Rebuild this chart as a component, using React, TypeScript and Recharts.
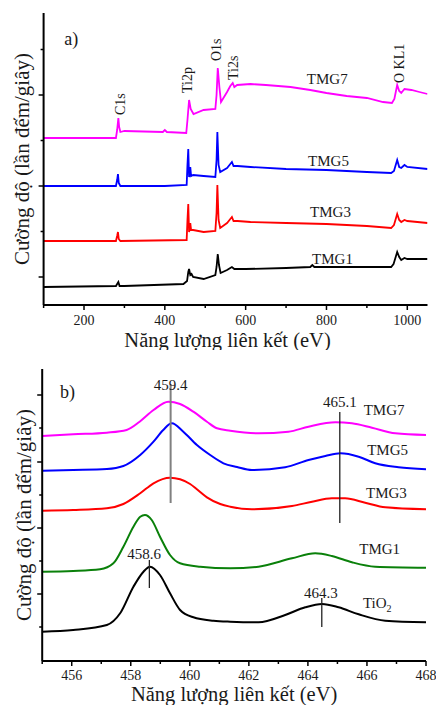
import { LineChart, Line, XAxis, YAxis, ReferenceLine, ReferenceDot } from "recharts";

const FONT = "'Liberation Serif', 'Times New Roman', Times, serif";
const INK = "#1a1a1a";

// (a) survey spectra: [binding energy (eV), intensity in plot units, offset stacked]
const surveyTMG7: [number, number][] = [
  [100, 167], [200, 167], [279, 167], [282, 175], [285, 187], [287, 178], [290, 173], [300, 174],
  [395, 173], [400, 175], [405, 173], [453, 172], [456, 185], [460, 205], [464, 196], [471, 191],
  [496, 195], [525, 196], [528, 210], [531, 237], [535, 218], [539, 203], [554, 213], [562, 219],
  [568, 222], [572, 218], [579, 220], [612, 221], [650, 220], [711, 218], [760, 215], [800, 212],
  [850, 209], [900, 207], [940, 203], [962, 202], [968, 206], [975, 220], [980, 214], [985, 212],
  [993, 216], [1010, 215], [1030, 213], [1050, 211],
];
const surveyTMG5: [number, number][] = [
  [100, 119], [279, 119], [282, 125], [284, 131], [286, 122], [290, 119], [400, 119], [454, 120],
  [456, 140], [458, 156], [460, 128], [462, 132], [463, 138], [465, 129], [470, 130], [496, 129],
  [525, 128], [528, 145], [530, 173], [533, 140], [537, 133], [554, 137], [562, 141], [566, 143],
  [570, 139], [580, 139], [612, 138], [700, 136], [800, 135], [900, 133], [960, 132], [967, 134],
  [975, 145], [980, 138], [985, 137], [993, 140], [1000, 138], [1050, 136],
];
const surveyTMG3: [number, number][] = [
  [100, 64], [279, 64], [282, 69], [284, 73], [286, 66], [290, 64], [454, 65], [456, 85],
  [458, 101], [460, 73], [462, 78], [463, 82], [465, 75], [470, 75], [496, 73], [525, 74],
  [528, 92], [530, 120], [533, 85], [537, 77], [554, 82], [562, 86], [566, 88], [570, 84],
  [580, 84], [612, 83], [700, 82], [800, 81], [900, 79], [960, 77], [967, 80], [975, 91],
  [980, 85], [985, 83], [993, 85], [1000, 84], [1050, 82],
];
const surveyTMG1: [number, number][] = [
  [100, 18], [279, 19], [282, 21], [285, 23], [288, 19], [300, 19], [446, 21], [455, 24],
  [458, 33], [460, 36], [463, 30], [466, 31], [470, 28], [496, 26], [525, 30], [528, 38],
  [531, 51], [534, 40], [538, 32], [554, 35], [562, 37], [566, 38], [572, 36], [600, 36],
  [700, 37], [760, 38], [765, 40], [770, 38], [800, 38], [900, 38], [960, 38], [966, 41],
  [975, 53], [980, 48], [985, 45], [993, 47], [1000, 46], [1050, 46],
];
const surveyXMajor = [200, 400, 600, 800, 1000];
const surveyXMinor = [100, 300, 500, 700, 900];
const surveyYMajor = [28, 119, 210];
const surveyYMinor = [73.5, 164.5, 255.5];
const surveyPeakNames = [
  { text: "C1s", x: 302, y: 190 },
  { text: "Ti2p", x: 466, y: 212 },
  { text: "O1s", x: 539, y: 244 },
  { text: "Ti2s", x: 582, y: 225 },
  { text: "O KL1", x: 991, y: 222 },
];
const surveyNames = [
  { text: "TMG7", x: 802, y: 221 },
  { text: "TMG5", x: 805, y: 139 },
  { text: "TMG3", x: 810, y: 88 },
  { text: "TMG1", x: 815, y: 41 },
];

// (b) Ti2p region
const tiTMG7: [number, number][] = [
  [455, 225], [456.05, 226.7], [457.19, 228.3], [457.86, 231], [458.3, 239.3], [458.77, 251],
  [459.27, 259.3], [459.67, 257], [460.12, 249.3], [460.58, 239.3], [460.92, 232.7], [461.37, 230.3],
  [462.33, 227.7], [463.34, 229.3], [464.02, 234.3], [464.93, 238.7], [465.49, 237.7], [466.17, 233.3],
  [466.96, 227.7], [468, 226],
];
const tiTMG5: [number, number][] = [
  [455, 190.3], [456.05, 191], [457.19, 192], [457.75, 195], [458.32, 206], [458.77, 219.3],
  [459.1, 231], [459.39, 237.7], [459.78, 229.3], [460.24, 216], [460.69, 206], [461.14, 197.7],
  [461.6, 194], [462.1, 191], [463.23, 193.7], [464.02, 201], [464.59, 205], [465.1, 207.7],
  [465.72, 204.3], [466.28, 197.7], [467.07, 193.7], [468, 191.7],
];
const tiTMG3: [number, number][] = [
  [455, 150.3], [456.05, 151], [457.19, 152.7], [457.75, 157], [458.32, 167.7], [458.77, 177.7],
  [459.33, 183.3], [459.67, 181.7], [460.01, 177], [460.24, 171.7], [460.58, 163.7], [461.03, 157],
  [461.37, 154.3], [462.1, 151.7], [463.46, 155], [464.14, 159.3], [464.81, 162.7], [465.26, 162.7],
  [465.94, 158.3], [466.62, 153.7], [468, 151.7],
];
const tiTMG1: [number, number][] = [
  [455, 89.3], [456.05, 90], [456.96, 91.7], [457.41, 97.7], [457.75, 114.3], [458.09, 134.3],
  [458.32, 144.3], [458.48, 146], [458.71, 141], [458.99, 124.3], [459.33, 106], [459.67, 97.7],
  [460.35, 94.3], [461.37, 92.7], [462.33, 94.3], [463.46, 102.7], [464.25, 107.7], [464.81, 105],
  [465.49, 98.7], [466.28, 94.3], [468, 93.3],
];
const tiTiO2: [number, number][] = [
  [455, 29.3], [456.05, 31], [457.19, 36], [457.64, 47.7], [458.09, 74.3], [458.43, 89.3],
  [458.65, 94.3], [458.99, 86], [459.33, 67.7], [459.67, 51], [460.12, 43.7], [460.8, 40.3],
  [461.37, 39.3], [462.33, 38.7], [463.23, 46], [463.91, 53.7], [464.48, 57], [465.04, 53.7],
  [465.72, 46.7], [466.62, 40.3], [468, 38.7],
];
const tiXMajor = [456, 458, 460, 462, 464, 466, 468];
const tiXMinor = [455, 457, 459, 461, 463, 465, 467];
const tiYMajor = [67, 133, 199, 266];
const tiYMinor = [34, 100, 166, 233];
const tiMarks = [
  { text: "459.4", x: 459.35, top: 277, bottom: 158, tx: 459.35, ty: 271 },
  { text: "465.1", x: 465.08, top: 249, bottom: 138, tx: 465.08, ty: 254 },
  { text: "458.6", x: 458.63, top: 101, bottom: 73, tx: 458.45, ty: 102 },
  { text: "464.3", x: 464.47, top: 63, bottom: 34, tx: 464.44, ty: 63 },
];
const tiNames = [
  { text: "TMG7", x: 466.58, y: 246 },
  { text: "TMG5", x: 466.7, y: 206 },
  { text: "TMG3", x: 466.66, y: 163 },
  { text: "TMG1", x: 466.43, y: 107 },
];

const toPts = (arr: [number, number][]) => arr.map(([x, y]) => ({ x, y }));

const txt = (size: number) => ({ fontFamily: FONT, fontSize: size });

const xTick = (majors: number[], labelDy: number) => (props: any) => {
  const { x, y, payload } = props;
  const major = majors.includes(payload.value);
  return (
    <g>
      <line x1={x} y1={y} x2={x} y2={y + (major ? 5 : 3)} stroke="#000" strokeWidth={1.5} />
      {major && (
        <text x={x} y={y + labelDy} textAnchor="middle" style={txt(14)} fill={INK}>
          {payload.value}
        </text>
      )}
    </g>
  );
};

const yTick = (majors: number[]) => (props: any) => {
  const { x, y, payload } = props;
  const major = majors.includes(payload.value);
  return <line x1={x} y1={y} x2={x - (major ? 5 : 3)} y2={y} stroke="#000" strokeWidth={1.5} />;
};

const xTitle = (dx: number, dy: number) => (props: any) => {
  const vb = props.viewBox || props;
  return (
    <text x={vb.x + vb.width / 2 + dx} y={vb.y + dy} textAnchor="middle" style={txt(20.5)} fill={INK}>
      Năng lượng liên kết (eV)
    </text>
  );
};

const yTitle = (bx: number) => (props: any) => {
  const vb = props.viewBox || props;
  const cy = vb.y + vb.height / 2;
  return (
    <text x={bx} y={cy} transform={`rotate(-90 ${bx} ${cy})`} textAnchor="middle" style={txt(21)} fill={INK}>
      Cường độ (lần đếm/giây)
    </text>
  );
};

const textShape = (text: string, size = 15, anchor = "middle") => (p: any) => (
  <text x={p.cx} y={p.cy} textAnchor={anchor} style={txt(size)} fill={INK}>
    {text}
  </text>
);

const upTextShape = (text: string) => (p: any) => (
  <text x={p.cx} y={p.cy} transform={`rotate(-90 ${p.cx} ${p.cy})`} style={txt(14)} fill={INK}>
    {text}
  </text>
);

const frame = { stroke: "#000", strokeWidth: 2 };

const SurveyChart = () => (
  <LineChart width={436} height={350} margin={{ top: 13, right: 8.5, bottom: 0, left: 0.6 }}>
    <XAxis
      dataKey="x"
      type="number"
      domain={[100, 1050]}
      ticks={[...surveyXMinor, ...surveyXMajor].sort((a, b) => a - b)}
      interval={0}
      height={45}
      tickSize={0}
      tickMargin={0}
      tickLine={false}
      tick={xTick(surveyXMajor, 20)}
      axisLine={frame}
      allowDataOverflow
      label={xTitle(-8, 41.5)}
    />
    <XAxis xAxisId="top" orientation="top" type="number" domain={[100, 1050]} height={0} tick={false} tickLine={false} axisLine={frame} />
    <YAxis
      type="number"
      domain={[0, 292]}
      ticks={[...surveyYMajor, ...surveyYMinor]}
      interval={0}
      width={43}
      tickSize={0}
      tickMargin={0}
      tickLine={false}
      tick={yTick(surveyYMajor)}
      axisLine={frame}
      allowDataOverflow
      label={yTitle(29)}
    />
    <YAxis yAxisId="right" orientation="right" type="number" domain={[0, 292]} width={0} tick={false} tickLine={false} axisLine={frame} />
    <Line data={toPts(surveyTMG1)} dataKey="y" type="linear" stroke="#000000" strokeWidth={1.8} dot={false} isAnimationActive={false} />
    <Line data={toPts(surveyTMG3)} dataKey="y" type="linear" stroke="#ff0000" strokeWidth={1.8} dot={false} isAnimationActive={false} />
    <Line data={toPts(surveyTMG5)} dataKey="y" type="linear" stroke="#0000ff" strokeWidth={1.8} dot={false} isAnimationActive={false} />
    <Line data={toPts(surveyTMG7)} dataKey="y" type="linear" stroke="#ff00ff" strokeWidth={1.8} dot={false} isAnimationActive={false} />
    {surveyPeakNames.map((p) => (
      <ReferenceDot key={p.text} x={p.x} y={p.y} r={0} shape={upTextShape(p.text)} />
    ))}
    {surveyNames.map((n) => (
      <ReferenceDot key={n.text} x={n.x} y={n.y} r={0} shape={textShape(n.text)} />
    ))}
    <ReferenceDot x={151} y={260} r={0} shape={textShape("a)", 18, "start")} />
  </LineChart>
);

const Ti2pChart = () => (
  <LineChart width={436} height={355} margin={{ top: 19, right: 10, bottom: 0, left: 0.2 }}>
    <XAxis
      dataKey="x"
      type="number"
      domain={[455, 468]}
      ticks={[...tiXMinor, ...tiXMajor].sort((a, b) => a - b)}
      interval={0}
      height={44}
      tickSize={0}
      tickMargin={0}
      tickLine={false}
      tick={xTick(tiXMajor, 18.5)}
      axisLine={frame}
      allowDataOverflow
      label={xTitle(0, 40)}
    />
    <XAxis xAxisId="top" orientation="top" type="number" domain={[455, 468]} height={0} tick={false} tickLine={false} axisLine={frame} />
    <YAxis
      type="number"
      domain={[0, 292]}
      ticks={[...tiYMajor, ...tiYMinor]}
      interval={0}
      width={42}
      tickSize={0}
      tickMargin={0}
      tickLine={false}
      tick={yTick(tiYMajor)}
      axisLine={frame}
      allowDataOverflow
      label={yTitle(31)}
    />
    <YAxis yAxisId="right" orientation="right" type="number" domain={[0, 292]} width={0} tick={false} tickLine={false} axisLine={frame} />
    <Line data={toPts(tiTiO2)} dataKey="y" type="monotone" stroke="#000000" strokeWidth={2} dot={false} isAnimationActive={false} />
    <Line data={toPts(tiTMG1)} dataKey="y" type="monotone" stroke="#0a800a" strokeWidth={2} dot={false} isAnimationActive={false} />
    <Line data={toPts(tiTMG3)} dataKey="y" type="monotone" stroke="#ff0000" strokeWidth={2} dot={false} isAnimationActive={false} />
    <Line data={toPts(tiTMG5)} dataKey="y" type="monotone" stroke="#0000ff" strokeWidth={2} dot={false} isAnimationActive={false} />
    <Line data={toPts(tiTMG7)} dataKey="y" type="monotone" stroke="#ff00ff" strokeWidth={2} dot={false} isAnimationActive={false} />
    {tiMarks.map((m, i) => (
      <ReferenceLine
        key={m.text}
        segment={[{ x: m.x, y: m.bottom }, { x: m.x, y: m.top }]}
        stroke={i === 0 ? "#808080" : "#222"}
        strokeWidth={i === 0 ? 2 : 1.3}
      />
    ))}
    {tiMarks.map((m) => (
      <ReferenceDot key={"t" + m.text} x={m.tx} y={m.ty} r={0} shape={textShape(m.text)} />
    ))}
    {tiNames.map((n) => (
      <ReferenceDot key={n.text} x={n.x} y={n.y} r={0} shape={textShape(n.text)} />
    ))}
    <ReferenceDot
      x={466.35}
      y={53}
      r={0}
      shape={(p: any) => (
        <text x={p.cx} y={p.cy} textAnchor="middle" style={txt(15)} fill={INK}>
          TiO<tspan dy={4} fontSize={10}>2</tspan>
        </text>
      )}
    />
    <ReferenceDot x={455.6} y={263} r={0} shape={textShape("b)", 18, "start")} />
  </LineChart>
);

export default function App() {
  return (
    <div style={{ position: "absolute", left: 0, top: 0, width: 436, height: 705, background: "#fff" }}>
      <div style={{ position: "absolute", left: 0, top: 0 }}>
        <SurveyChart />
      </div>
      <div style={{ position: "absolute", left: 0, top: 350 }}>
        <Ti2pChart />
      </div>
    </div>
  );
}
